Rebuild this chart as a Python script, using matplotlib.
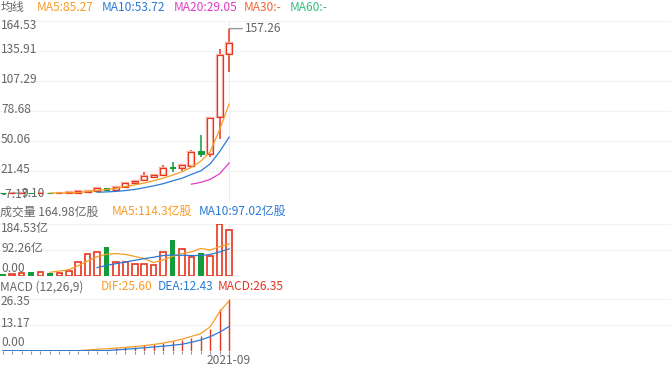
import numpy as np
import pandas as pd
import matplotlib
matplotlib.use("Agg")
import matplotlib.pyplot as plt
import matplotlib.transforms as mtransforms

plt.rcParams["font.family"] = ["Noto Sans CJK SC", "DejaVu Sans"]

# monthly candles, 2019-09 .. 2021-09
months = [str(p) for p in pd.period_range("2019-09", "2021-09", freq="M")]

opens = [0.50, 0.42, 0.48, 0.58, 0.50, 0.62, 0.52, 0.66, 0.50, 1.50, 2.40, 5.00, 2.90,
         6.20, 9.70, 12.9, 15.8, 17.3, 25.4, 24.3, 26.6, 40.3, 37.8, 72.6, 133.0]
closes = [0.42, 0.50, 0.58, 0.50, 0.60, 0.52, 0.66, 0.95, 1.90, 2.50, 5.40, 2.90, 5.90,
          9.60, 12.2, 16.4, 17.4, 24.3, 24.0, 26.9, 39.8, 37.6, 72.3, 132.0, 143.3]
highs = [0.55, 0.55, 0.62, 0.62, 0.64, 0.66, 0.70, 1.00, 2.30, 2.80, 5.80, 5.60, 6.30,
         10.0, 12.8, 20.8, 19.0, 26.9, 29.7, 28.2, 41.4, 55.8, 73.0, 137.6, 157.26]
lows = [0.38, 0.38, 0.45, 0.46, 0.48, 0.50, 0.50, 0.62, 0.45, 1.20, 2.20, 2.50, 2.60,
        5.90, 9.30, 12.3, 14.6, 16.8, 20.8, 21.6, 26.0, 34.6, 34.4, 52.4, 116.0]

nan = np.nan
ma5 = [nan] * 5 + [0.45, 0.5, 0.6, 0.93, 1.9, 2.8, 3.8, 5.0, 6.6, 8.2, 10.0, 12.2, 14.6,
                   17.5, 20.6, 25.0, 30.8, 39.8, 61.0, 85.27]
ma10 = [nan] * 10 + [1.2, 1.5, 2.0, 2.8, 3.9, 5.5, 7.3, 9.3, 12.0, 14.5, 18.2, 21.6, 28.3,
                     40.0, 53.72]
ma20 = [nan] * 20 + [8.9, 10.6, 13.5, 18.8, 29.05]

# volume in 亿股
volume = [8, 7, 9.5, 13, 13, 10.7, 10.7, 19, 51, 77.5, 87, 103.5, 49, 49, 41.8, 41.8,
          39.3, 87, 128.5, 96.4, 67.8, 81, 71.4, 184.53, 164.98]
vol_ma5 = [nan] * 5 + [13.2, 17.9, 22.5, 36.8, 53.6, 69, 77.5, 80, 77, 70, 62, 48, 57, 70,
                       79.6, 86, 98.4, 92.8, 104.6, 114.3]
vol_ma10 = [nan] * 10 + [30, 38, 44, 50, 56, 62, 67, 73, 75, 74, 73, 73, 77, 86, 97.02]

macd = [0] * 12 + [1.2, 1.7, 2.0, 2.7, 3.4, 4.1, 5.0, 5.5, 6.4, 7.5, 11.0, 21.2, 26.35]
dif = [0] * 9 + [0.4, 0.7, 1.0, 1.35, 1.7, 2.1, 2.6, 3.2, 3.9, 4.8, 5.9, 7.3, 8.8, 12.3,
                 20.0, 25.6]
dea = [0] * 11 + [0.05, 0.4, 0.75, 1.1, 1.5, 1.9, 2.3, 2.8, 3.3, 4.3, 5.5, 7.2, 9.5, 12.43]

price_ticks = [164.53, 135.91, 107.29, 78.68, 50.06, 21.45, -7.17]
vol_ticks = [184.53, 92.26, 0.0]
vol_tick_text = ["184.53亿", "92.26亿", "0.00"]
macd_ticks = [26.35, 13.17, 0.0]
max_label = "157.26"
min_label = "9.10"

RED = "#e8341c"
HALO = "#f6b2a8"
GREEN = "#139b3c"
ORANGE = "#f79c25"
BLUE = "#2a7ad5"
MAGENTA = "#e03cc4"
GRAY = "#666666"
GRID = "#f2f2f2"
FS = 8.6

W, H = 671, 371
fig = plt.figure(figsize=(W / 100, H / 100), dpi=100)

x = np.arange(len(months))
up = np.array(closes) >= np.array(opens)
xlim = (-0.294, 70.86)
last = months.index("2021-09")


def panel(top, bottom):
    ax = fig.add_axes([0, 1 - bottom / H, 1, (bottom - top) / H])
    ax.set_xlim(*xlim)
    for s in ax.spines.values():
        s.set_visible(False)
    ax.tick_params(left=False, labelleft=False, bottom=False, labelbottom=False)
    ax.set_axisbelow(True)
    ax.axvline(last, color="#ececec", lw=0.8, zorder=0)
    return ax


def axis_labels(ax, values, texts, shifts):
    base = mtransforms.blended_transform_factory(ax.transAxes, ax.transData)
    for v, t, s in zip(values, texts, shifts):
        tr = mtransforms.offset_copy(base, fig=fig, x=1, y=s, units="dots")
        ax.text(0, v, t, transform=tr, ha="left", va="center", fontsize=FS,
                color=GRAY, clip_on=False, zorder=6)


def header(y_px, items):
    for s, x_px, c in items:
        fig.text(x_px / W, 1 - y_px / H, s, ha="left", va="center", fontsize=FS, color=c)


# ---- candles ----
ax = panel(21, 201)
ax.set_ylim(price_ticks[-1], price_ticks[0])
ax.set_yticks(price_ticks)
ax.grid(axis="y", color=GRID, lw=0.8)

o = np.array(opens)
c = np.array(closes)
bottom = np.minimum(o, c)
height = np.maximum(np.abs(c - o), 0.15)
ax.vlines(x[up], np.array(lows)[up], np.array(highs)[up], color=RED, lw=1.1, zorder=2)
ax.vlines(x[~up], np.array(lows)[~up], np.array(highs)[~up], color=GREEN, lw=1.1, zorder=2)
ax.bar(x[up], height[up], bottom=bottom[up], width=0.62, facecolor="white",
       edgecolor=HALO, lw=1.7, zorder=3)
ax.bar(x[up], height[up], bottom=bottom[up], width=0.62, facecolor="none",
       edgecolor=RED, lw=0.8, zorder=4)
ax.bar(x[~up], height[~up], bottom=bottom[~up], width=0.62, color=GREEN, lw=0.8,
       edgecolor=GREEN, zorder=3)

ax.plot(x, ma5, color=ORANGE, lw=0.9, zorder=5)
ax.plot(x, ma10, color=BLUE, lw=0.9, zorder=5)
ax.plot(x, ma20, color=MAGENTA, lw=0.9, zorder=5)

imax = int(np.argmax(highs))
ax.annotate(max_label, xy=(imax, highs[imax]), xytext=(16, 0), textcoords="offset pixels",
            ha="left", va="center", fontsize=FS, color=GRAY,
            arrowprops=dict(arrowstyle="-", color="#999999", lw=1, shrinkA=0, shrinkB=0))
ax.annotate(min_label, xy=(1, lows[1]), xytext=(9, 0), textcoords="offset pixels",
            ha="left", va="center", fontsize=FS, color=GRAY, annotation_clip=False,
            arrowprops=dict(arrowstyle="-", color="#999999", lw=1, shrinkA=0, shrinkB=0))

axis_labels(ax, price_ticks, ["%.2f" % v for v in price_ticks],
            [-4.5, 1.5, 1.5, 1.5, 1.5, 1.5, 7])

header(7.3, [("均线", 0.7, GRAY), ("MA5:85.27", 36.7, ORANGE), ("MA10:53.72", 101.7, BLUE),
             ("MA20:29.05", 173.3, MAGENTA), ("MA30:-", 243.3, "#f0683a"),
             ("MA60:-", 289.3, "#2fc07d")])

# ---- volume ----
axv = panel(224.3, 276)
axv.set_ylim(0, vol_ticks[0])
axv.set_yticks(vol_ticks)
axv.grid(axis="y", color=GRID, lw=0.8)
vol = np.array(volume)
axv.bar(x[up], vol[up], width=0.6, facecolor="none", edgecolor=RED, lw=1.2, zorder=3)
axv.bar(x[~up], vol[~up], width=0.6, color=GREEN, zorder=3)
axv.plot(x, vol_ma5, color=ORANGE, lw=0.9, zorder=5)
axv.plot(x, vol_ma10, color=BLUE, lw=0.9, zorder=5)
axis_labels(axv, vol_ticks, vol_tick_text, [-4, 1.8, 8])

header(211.7, [("成交量 164.98亿股", 0, GRAY), ("MA5:114.3亿股", 111.7, ORANGE),
               ("MA10:97.02亿股", 199, BLUE)])

# ---- MACD ----
axm = panel(299.3, 350.7)
axm.set_ylim(0, macd_ticks[0])
axm.set_yticks(macd_ticks)
axm.grid(axis="y", color=GRID, lw=0.8)
axm.vlines(x, 0, macd, color=RED, lw=1.0, zorder=3)
axm.plot(x, dif, color=ORANGE, lw=0.9, zorder=5)
axm.plot(x, dea, color=BLUE, lw=0.9, zorder=5)
axm.set_xticks(x)
axm.set_xticklabels([m if m == "2021-09" else "" for m in months], fontsize=FS, color=GRAY)
axm.tick_params(bottom=True, labelbottom=True, length=2, width=0.8, color="#8a99aa", pad=0.3)
axis_labels(axm, macd_ticks, ["%.2f" % v for v in macd_ticks], [-2.4, 1.7, 8])

header(286.7, [("MACD (12,26,9)", 0, GRAY), ("DIF:25.60", 101, ORANGE),
               ("DEA:12.43", 157.3, BLUE), ("MACD:26.35", 217.3, RED)])

fig.savefig("out.png", dpi=100, facecolor="white")
